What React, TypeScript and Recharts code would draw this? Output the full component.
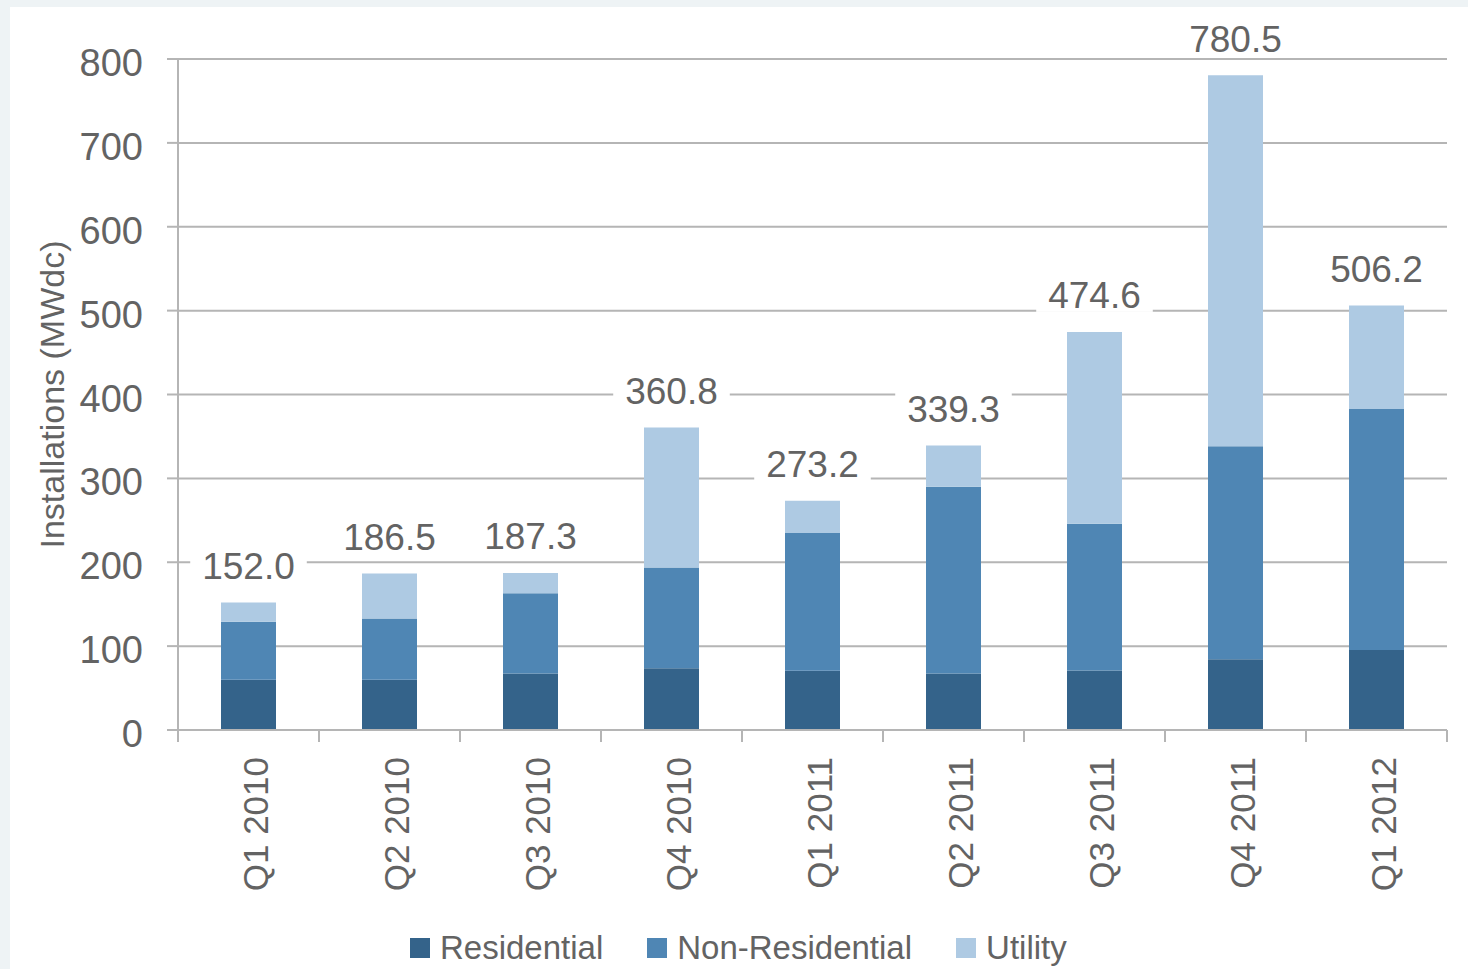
import React from 'react';
import { BarChart, Bar, XAxis, YAxis, CartesianGrid, Legend, LabelList } from 'recharts';

const categories = ['Q1 2010', 'Q2 2010', 'Q3 2010', 'Q4 2010', 'Q1 2011', 'Q2 2011', 'Q3 2011', 'Q4 2011', 'Q1 2012'];
const residential = [60, 60, 67.5, 73.7, 70.5, 67.5, 71, 84.3, 95.5];
const nonResidential = [69, 73, 95.5, 120.1, 164.3, 222.5, 174.8, 254, 287.3];
const utility = [23, 53.5, 24.3, 167, 38.4, 49.3, 228.8, 442.2, 123.4];
const totals = [152.0, 186.5, 187.3, 360.8, 273.2, 339.3, 474.6, 780.5, 506.2];
const yTicks = [0, 100, 200, 300, 400, 500, 600, 700, 800];

const seriesNames = ['Residential', 'Non-Residential', 'Utility'];
const seriesColors = ['#34638a', '#4f86b4', '#aecae3'];

const data = categories.map((c, i) => ({
  category: c,
  residential: residential[i],
  nonResidential: nonResidential[i],
  utility: utility[i],
  total: totals[i],
}));

const FONT = "'Liberation Sans', Arial, sans-serif";
const TEXT = '#636363';
const GRID = '#b5b5b5';

const CHART_W = 1458;
const CHART_H = 962;
const M_TOP = 52;
const M_RIGHT = 21;
const Y_W = 168;
const PLOT_W = CHART_W - Y_W - M_RIGHT;
const BAND = PLOT_W / categories.length;

const YTick = (props: any) => {
  const { x, y, payload } = props;
  return (
    <text x={x} y={y + 17} textAnchor="end" fill={TEXT} fontSize={38} fontFamily={FONT}>
      {payload.value}
    </text>
  );
};

const XTick = (props: any) => {
  const { x, y, payload, index } = props;
  const ax = x + 19;
  const ay = y + 27;
  const left = x - BAND / 2;
  const right = x + BAND / 2;
  return (
    <g>
      <line x1={left} y1={y} x2={left} y2={y + 12} stroke={GRID} strokeWidth={2} />
      {index === categories.length - 1 && (
        <line x1={right} y1={y} x2={right} y2={y + 12} stroke={GRID} strokeWidth={2} />
      )}
      <text
        x={ax}
        y={ay}
        textAnchor="end"
        fill={TEXT}
        fontSize={35}
        fontFamily={FONT}
        transform={`rotate(-90, ${ax}, ${ay})`}
      >
        {payload.value}
      </text>
    </g>
  );
};

const TotalLabel = (props: any) => {
  const { x, y, width, value } = props;
  const txt = Number(value).toFixed(1);
  const fs = 37;
  const w = (txt.length - 1) * 0.556 * fs + 0.278 * fs;
  const cx = x + width / 2;
  const cy = y - 37;
  return (
    <g>
      <rect x={cx - w / 2 - 12} y={cy - 17} width={w + 24} height={34} fill="#ffffff" />
      <text x={cx} y={cy + 0.358 * fs} textAnchor="middle" fill={TEXT} fontSize={fs} fontFamily={FONT}>
        {txt}
      </text>
    </g>
  );
};

const YLabel = (props: any) => {
  const { viewBox } = props;
  const cx = 42;
  const cy = viewBox.y + viewBox.height / 2;
  return (
    <text
      x={cx}
      y={cy}
      textAnchor="middle"
      dominantBaseline="central"
      fill={TEXT}
      fontSize={34}
      fontFamily={FONT}
      transform={`rotate(-90, ${cx}, ${cy})`}
    >
      Installations (MWdc)
    </text>
  );
};

const LegendContent = () => (
  <div
    style={{
      display: 'flex',
      alignItems: 'center',
      paddingLeft: 400,
      height: 42,
      fontFamily: FONT,
      fontSize: 33,
      color: TEXT,
      lineHeight: '42px',
    }}
  >
    {seriesNames.map((n, i) => (
      <div key={n} style={{ display: 'flex', alignItems: 'center', marginRight: 44 }}>
        <span style={{ width: 20, height: 20, background: seriesColors[i], display: 'inline-block', marginRight: 10 }} />
        <span>{n}</span>
      </div>
    ))}
  </div>
);

export default function App() {
  return (
    <div style={{ position: 'absolute', left: 0, top: 0, width: 1468, height: 969, background: '#eef3f5', overflow: 'hidden' }}>
      <div style={{ position: 'absolute', left: 10, top: 7, width: CHART_W, height: CHART_H, background: '#ffffff' }}>
        <BarChart
          width={CHART_W}
          height={CHART_H}
          data={data}
          margin={{ top: M_TOP, right: M_RIGHT, left: 0, bottom: 0 }}
          barCategoryGap={0}
        >
          <CartesianGrid vertical={false} stroke={GRID} strokeWidth={2} />
          <XAxis
            dataKey="category"
            interval={0}
            height={197}
            tickLine={false}
            tickSize={0}
            tickMargin={0}
            axisLine={{ stroke: GRID, strokeWidth: 2 }}
            tick={<XTick />}
          />
          <YAxis
            width={Y_W}
            domain={[0, 800]}
            ticks={yTicks}
            interval={0}
            tickSize={11}
            tickMargin={24}
            tickLine={{ stroke: GRID, strokeWidth: 2 }}
            axisLine={{ stroke: GRID, strokeWidth: 2 }}
            tick={<YTick />}
            label={<YLabel />}
          />
          <Legend verticalAlign="bottom" align="left" content={<LegendContent />} wrapperStyle={{ height: 42, left: 0, bottom: 0 }} />
          <Bar dataKey="residential" name={seriesNames[0]} stackId="a" fill={seriesColors[0]} barSize={55} isAnimationActive={false} />
          <Bar dataKey="nonResidential" name={seriesNames[1]} stackId="a" fill={seriesColors[1]} barSize={55} isAnimationActive={false} />
          <Bar dataKey="utility" name={seriesNames[2]} stackId="a" fill={seriesColors[2]} barSize={55} isAnimationActive={false}>
            <LabelList dataKey="total" content={<TotalLabel />} />
          </Bar>
        </BarChart>
      </div>
    </div>
  );
}
